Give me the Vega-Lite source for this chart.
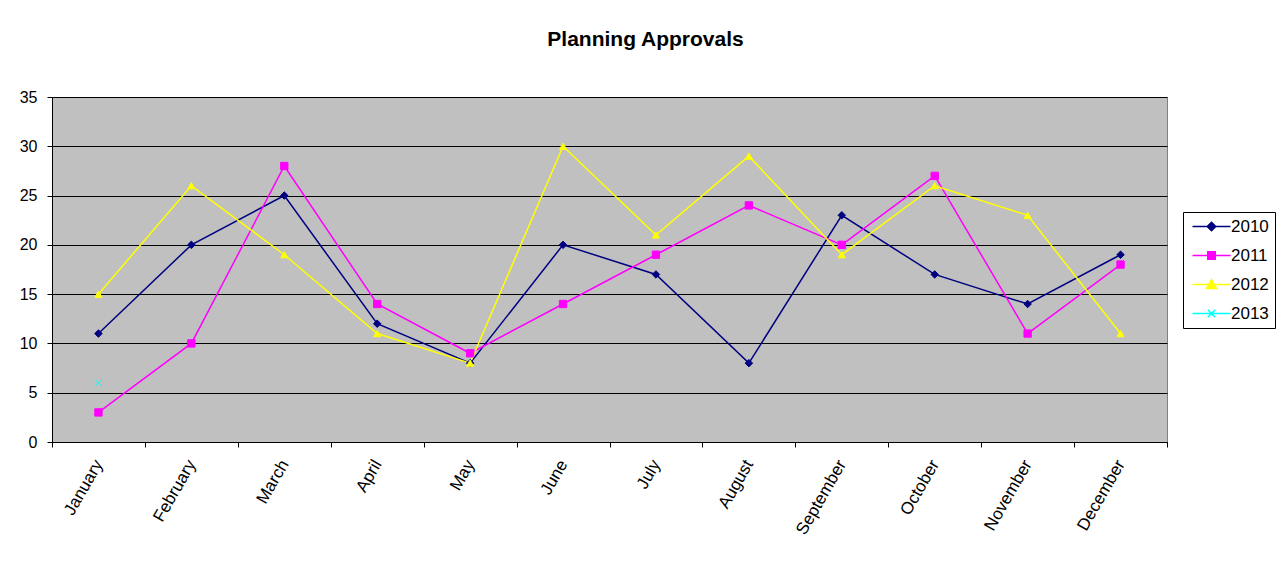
{
  "$schema": "https://vega.github.io/schema/vega-lite/v6.json",
  "width": 1115,
  "height": 345,
  "autosize": {"type": "none"},
  "padding": {"left": 52, "top": 97, "right": 110, "bottom": 119},
  "background": "white",
  "title": {"text": "Planning Approvals", "font": "Liberation Sans", "fontSize": 21, "fontWeight": "bold", "color": "black", "anchor": "middle", "dx": 36, "offset": 39},
  "config": {
    "view": {"fill": "#C0C0C0", "stroke": "#808080", "strokeWidth": 1},
    "font": "Liberation Sans",
    "legend": {"title": null, "orient": "none", "legendX": 1131, "legendY": 115, "symbolSize": 100, "symbolOffset": 14, "symbolStrokeWidth": 1.5, "symbolOpacity": 1, "labelFontSize": 17, "labelFont": "Liberation Sans", "labelColor": "black", "strokeColor": "black", "fillColor": "white", "padding": 6, "labelOffset": 11, "rowPadding": 11}
  },
  "data": {"values": [
    {"Month": "January", "Year": "2010", "Value": 11},
    {"Month": "February", "Year": "2010", "Value": 20},
    {"Month": "March", "Year": "2010", "Value": 25},
    {"Month": "April", "Year": "2010", "Value": 12},
    {"Month": "May", "Year": "2010", "Value": 8},
    {"Month": "June", "Year": "2010", "Value": 20},
    {"Month": "July", "Year": "2010", "Value": 17},
    {"Month": "August", "Year": "2010", "Value": 8},
    {"Month": "September", "Year": "2010", "Value": 23},
    {"Month": "October", "Year": "2010", "Value": 17},
    {"Month": "November", "Year": "2010", "Value": 14},
    {"Month": "December", "Year": "2010", "Value": 19},
    {"Month": "January", "Year": "2011", "Value": 3},
    {"Month": "February", "Year": "2011", "Value": 10},
    {"Month": "March", "Year": "2011", "Value": 28},
    {"Month": "April", "Year": "2011", "Value": 14},
    {"Month": "May", "Year": "2011", "Value": 9},
    {"Month": "June", "Year": "2011", "Value": 14},
    {"Month": "July", "Year": "2011", "Value": 19},
    {"Month": "August", "Year": "2011", "Value": 24},
    {"Month": "September", "Year": "2011", "Value": 20},
    {"Month": "October", "Year": "2011", "Value": 27},
    {"Month": "November", "Year": "2011", "Value": 11},
    {"Month": "December", "Year": "2011", "Value": 18},
    {"Month": "January", "Year": "2012", "Value": 15},
    {"Month": "February", "Year": "2012", "Value": 26},
    {"Month": "March", "Year": "2012", "Value": 19},
    {"Month": "April", "Year": "2012", "Value": 11},
    {"Month": "May", "Year": "2012", "Value": 8},
    {"Month": "June", "Year": "2012", "Value": 30},
    {"Month": "July", "Year": "2012", "Value": 21},
    {"Month": "August", "Year": "2012", "Value": 29},
    {"Month": "September", "Year": "2012", "Value": 19},
    {"Month": "October", "Year": "2012", "Value": 26},
    {"Month": "November", "Year": "2012", "Value": 23},
    {"Month": "December", "Year": "2012", "Value": 11},
    {"Month": "January", "Year": "2013", "Value": 6}
  ]},
  "encoding": {
    "x": {
      "field": "Month", "type": "ordinal",
      "sort": ["January","February","March","April","May","June","July","August","September","October","November","December"],
      "bandPosition": 0.5,
      "scale": {"type": "band", "paddingInner": 0, "paddingOuter": 0},
      "axis": {"title": null, "tickBand": "extent", "labelAngle": -60, "labelAlign": "right", "labelBaseline": "middle", "labelFontSize": 17, "labelColor": "black", "labelFont": "Liberation Sans", "domainColor": "black", "tickColor": "black", "tickSize": 5, "grid": false, "labelPadding": 14}
    },
    "y": {
      "field": "Value", "type": "quantitative",
      "scale": {"domain": [0, 35], "nice": false},
      "axis": {"title": null, "values": [0,5,10,15,20,25,30,35], "labelFontSize": 16, "labelColor": "black", "labelFont": "Liberation Sans", "domainColor": "black", "tickColor": "black", "tickSize": 5, "labelPadding": 10, "grid": true, "gridColor": "black", "gridWidth": 1}
    }
  },
  "layer": [
    {
      "mark": {"type": "line", "strokeWidth": 1.5},
      "encoding": {
        "color": {"field": "Year", "type": "nominal", "scale": {"domain": ["2010","2011","2012","2013"], "range": ["#000080","#FF00FF","#FFFF00","#00FFFF"]}, "legend": null}
      }
    },
    {
      "mark": {"type": "point", "filled": true, "strokeWidth": 1, "opacity": 1},
      "encoding": {
        "fill": {"field": "Year", "type": "nominal", "scale": {"domain": ["2010","2011","2012","2013"], "range": ["#000080","#FF00FF","#FFFF00","#00FFFF"]}, "legend": null},
        "stroke": {"field": "Year", "type": "nominal", "scale": {"domain": ["2010","2011","2012","2013"], "range": ["#000080","#FF00FF","#FFFF00","#00FFFF"]}, "legend": null},
        "shape": {"field": "Year", "type": "nominal", "scale": {"domain": ["2010","2011","2012","2013"], "range": ["diamond","square","triangle-up","M-1,-1L1,1M-1,1L1,-1"]}, "legend": null},
        "size": {"field": "Year", "type": "ordinal", "scale": {"domain": ["2010","2011","2012","2013"], "range": [56, 49, 80, 49]}, "legend": null}
      }
    },
    {
      "mark": {"type": "point", "filled": true, "size": 0, "strokeWidth": 1.5, "opacity": 1},
      "encoding": {
        "fill": {"field": "Year", "type": "nominal", "scale": {"domain": ["2010","2011","2012","2013"], "range": ["#000080","#FF00FF","#FFFF00","#00FFFF"]}, "legend": {}},
        "stroke": {"field": "Year", "type": "nominal", "scale": {"domain": ["2010","2011","2012","2013"], "range": ["#000080","#FF00FF","#FFFF00","#00FFFF"]}, "legend": {}},
        "shape": {"field": "Year", "type": "nominal", "scale": {"domain": ["2010","2011","2012","2013"], "range": ["M-3.8,0H3.8M0,-0.85L0.85,0L0,0.85L-0.85,0Z", "M-3.8,0H3.8M-0.75,-0.75H0.75V0.75H-0.75Z", "M-3.8,0H3.8M0,-1L1,0.8H-1Z", "M-3.8,0H3.8M-0.75,-0.75L0.75,0.75M-0.75,0.75L0.75,-0.75"]}, "legend": {}}
      }
    }
  ],
  "resolve": {"scale": {"fill": "independent", "stroke": "independent", "shape": "independent", "size": "independent"}}
}
